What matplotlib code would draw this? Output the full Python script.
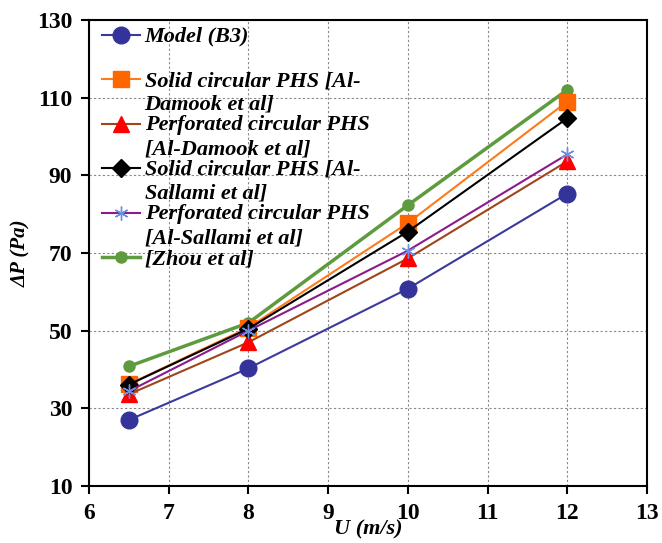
"""
Pressure drop vs. air velocity: model (B3) against published PHS data.
"""
import matplotlib
matplotlib.use("Agg")
import matplotlib.pyplot as plt
from matplotlib.legend_handler import HandlerLine2D
from matplotlib.ticker import MultipleLocator
from matplotlib.transforms import Affine2D

plt.rcParams["font.family"] = ["Liberation Serif", "DejaVu Serif"]
plt.rcParams["font.weight"] = "bold"

# velocity (m/s)
u = [6.5, 8, 10, 12]

# pressure drop (Pa)
dp_model = [27.0, 40.3, 60.8, 85.3]
dp_solid_damook = [36.2, 50.8, 77.7, 109.0]
dp_perf_damook = [33.6, 47.0, 68.6, 93.6]
dp_solid_sallami = [36.1, 50.5, 75.5, 104.7]
dp_perf_sallami = [34.4, 50.0, 70.6, 95.4]
dp_zhou = [40.8, 52.0, 82.3, 112.0]

labels = [
    "Model (B3)\n ",
    "Solid circular PHS [Al-\nDamook et al]",
    "Perforated circular PHS\n[Al-Damook et al]",
    "Solid circular PHS [Al-\nSallami et al]",
    "Perforated circular PHS\n[Al-Sallami et al]",
    "[Zhou et al]",
]


class FirstLineHandler(HandlerLine2D):
    """Line handle lifted so it sits beside the first line of a wrapped label."""

    def __init__(self, dy, **kw):
        super().__init__(**kw)
        self.dy = dy

    def create_artists(self, legend, orig_handle, xdescent, ydescent,
                       width, height, fontsize, trans):
        trans = Affine2D().translate(0, self.dy) + trans
        return super().create_artists(legend, orig_handle, xdescent, ydescent,
                                      width, height, fontsize, trans)


fig = plt.figure(figsize=(6.62, 5.43), dpi=100)
ax = fig.add_axes([0.1344, 0.105, 0.8429, 0.8582])

lines = []
lines += ax.plot(u, dp_model, color="#3A3A9A", lw=1.5, marker="o", ms=12,
                 mfc="#333399", mec="#333399", label=labels[0], zorder=3)
lines += ax.plot(u, dp_solid_damook, color="#FF7A1A", lw=1.5, marker="s", ms=12,
                 mfc="#FF6600", mec="#FF6600", label=labels[1], zorder=3)
lines += ax.plot(u, dp_perf_damook, color="#A0441A", lw=1.5, marker="^", ms=12,
                 mfc="#FF0000", mec="#FF0000", label=labels[2], zorder=3)
lines += ax.plot(u, dp_solid_sallami, color="black", lw=1.5, marker="D", ms=9,
                 mfc="black", mec="black", label=labels[3], zorder=4)
lines += ax.plot(u, dp_perf_sallami, color="#8B1A8B", lw=1.5, marker=(6, 2, 0), ms=10,
                 mfc="#6E8FE0", mec="#6E8FE0", mew=1.0, label=labels[4], zorder=4)
lines += ax.plot(u, dp_zhou, color="#5E9B3E", lw=2.5, marker="o", ms=8,
                 mfc="#5E9B3E", mec="#5E9B3E", label=labels[5], zorder=2)

ax.set_xlim(6, 13)
ax.set_ylim(10, 130)
ax.xaxis.set_major_locator(MultipleLocator(1))
ax.set_yticks(range(10, 131, 20))
ax.grid(True, color="#888888", linestyle=(0, (2, 2)), linewidth=0.8)
ax.set_axisbelow(True)
ax.tick_params(direction="out", length=6, width=1.5, labelsize=17, pad=6)
for s in ax.spines.values():
    s.set_linewidth(1.5)
for t in ax.get_xticklabels() + ax.get_yticklabels():
    t.set_fontweight("bold")

ax.set_xlabel("U (m/s)", fontsize=16, fontstyle="italic", fontweight="bold", labelpad=-3)
ax.set_ylabel("ΔP (Pa)", fontsize=15, fontstyle="italic", fontweight="bold", labelpad=4)

# wrapped labels: lift the handle to the first text line
hmap = {ln: FirstLineHandler(9.5 if "\n" in ln.get_label() else 0.0) for ln in lines}
leg = ax.legend(loc="upper left", bbox_to_anchor=(0.012, 1.0), frameon=False,
                prop={"style": "italic", "weight": "bold", "size": 16},
                labelspacing=0.03, handlelength=1.7, handletextpad=0.2,
                borderaxespad=0.2, borderpad=0.1, handler_map=hmap)
for t in leg.get_texts():
    t.set_linespacing(1.25)

fig.savefig("out.png", dpi=100)
